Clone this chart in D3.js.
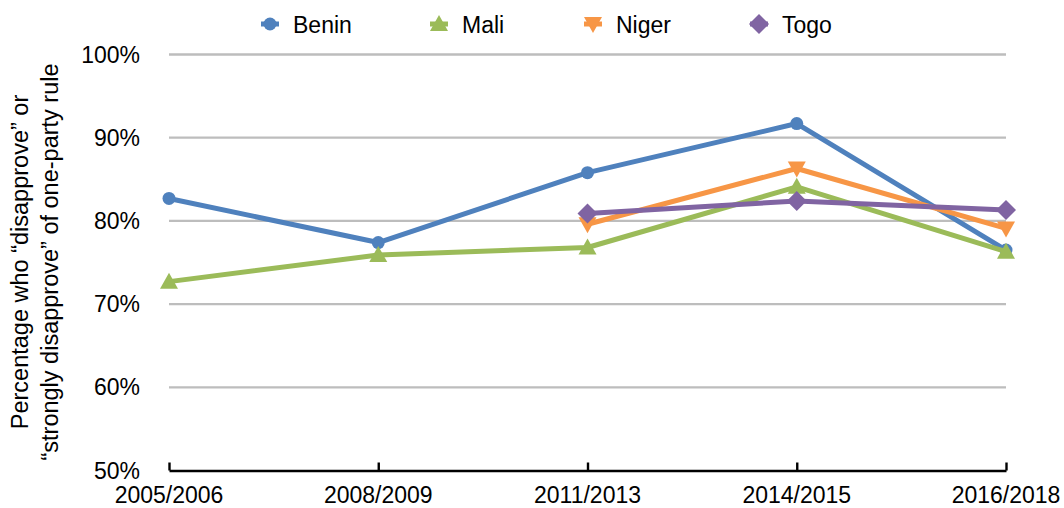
<!DOCTYPE html>
<html>
<head>
<meta charset="utf-8">
<script src="https://cdn.jsdelivr.net/npm/d3@7"></script>
<style>
  body { margin: 0; background: #fff; }
  text { font-family: "Liberation Sans", Arial, sans-serif; fill: #000; }
</style>
</head>
<body>
<div id="chart"></div>
<script>
var surveys = ["2005/2006", "2008/2009", "2011/2013", "2014/2015", "2016/2018"]
var benin = [82.7, 77.4, 85.8, 91.7, 76.5]
var mali = [72.7, 75.9, 76.8, 84.1, 76.3]
var niger = [null, null, 79.6, 86.3, 79.1]
var togo = [null, null, 80.9, 82.4, 81.3]
var yTicks = [50, 60, 70, 80, 90, 100]

var series = [
  {name: "Benin", values: benin, color: "#4f81bd", symbol: "circle"},
  {name: "Mali", values: mali, color: "#9bbb59", symbol: "up"},
  {name: "Niger", values: niger, color: "#f79646", symbol: "down"},
  {name: "Togo", values: togo, color: "#8064a2", symbol: "diamond"}
]

var width = 1064,
    height = 508

var svg = d3.select("#chart")
  .append("svg")
    .attr("width", width)
    .attr("height", height)

var x = d3.scalePoint()
  .domain(surveys)
  .range([169, 1006])

var y = d3.scaleLinear()
  .domain([50, 100])
  .range([470.5, 54.5])

// gridlines
svg.selectAll("gridLines")
  .data(yTicks.filter(function(t){ return t > 50 }))
  .enter()
  .append("line")
    .attr("x1", 169)
    .attr("x2", 1006)
    .attr("y1", function(d){ return y(d) })
    .attr("y2", function(d){ return y(d) })
    .attr("stroke", "#bdbdbd")
    .attr("stroke-width", 2.3)

// y labels
svg.selectAll("yLabels")
  .data(yTicks)
  .enter()
  .append("text")
    .attr("x", 140)
    .attr("y", function(d){ return y(d) + 8 })
    .style("text-anchor", "end")
    .style("font-size", "23px")
    .text(function(d){ return d + "%" })

// x axis, ticks point up
var xAxis = svg.append("g")
  .attr("transform", "translate(0," + y(50) + ")")
  .call(d3.axisTop(x).tickSize(8).tickSizeOuter(0).tickFormat(""))
xAxis.select(".domain").attr("stroke", "#000").attr("stroke-width", 2.6)
xAxis.selectAll(".tick line").attr("stroke", "#000").attr("stroke-width", 2.4)

svg.selectAll("xLabels")
  .data(surveys)
  .enter()
  .append("text")
    .attr("x", function(d){ return x(d) })
    .attr("y", 503)
    .style("text-anchor", "middle")
    .style("font-size", "23px")
    .text(function(d){ return d })

// y axis title (two lines)
var title = svg.append("text")
  .attr("transform", "translate(0,262) rotate(-90)")
  .style("text-anchor", "middle")
  .style("font-size", "23.5px")
title.append("tspan").attr("x", 0).attr("y", 28).text("Percentage who \u201cdisapprove\u201d or")
title.append("tspan").attr("x", 0).attr("y", 58).text("\u201cstrongly disapprove\u201d of one-party rule")

function drawSymbol(g, type, cx, cy, color) {
  if (type == "circle") {
    g.append("circle").attr("cx", cx).attr("cy", cy).attr("r", 6.5).attr("fill", color)
  } else if (type == "up") {
    g.append("path").attr("d", "M" + cx + "," + (cy - 9) + "L" + (cx + 9) + "," + (cy + 7) + "L" + (cx - 9) + "," + (cy + 7) + "Z").attr("fill", color)
  } else if (type == "down") {
    g.append("path").attr("d", "M" + (cx - 9) + "," + (cy - 7) + "L" + (cx + 9) + "," + (cy - 7) + "L" + cx + "," + (cy + 9) + "Z").attr("fill", color)
  } else {
    g.append("path").attr("d", "M" + cx + "," + (cy - 10) + "L" + (cx + 10) + "," + cy + "L" + cx + "," + (cy + 10) + "L" + (cx - 10) + "," + cy + "Z").attr("fill", color)
  }
}

var line = d3.line()
  .defined(function(d){ return d.v != null })
  .x(function(d){ return x(d.k) })
  .y(function(d){ return y(d.v) })

series.forEach(function(s) {
  var pts = surveys.map(function(k, i){ return {k: k, v: s.values[i]} })
  svg.append("path")
    .datum(pts)
    .attr("d", line)
    .attr("fill", "none")
    .attr("stroke", s.color)
    .attr("stroke-width", 5)
    .attr("stroke-linejoin", "round")
  var g = svg.append("g")
  pts.forEach(function(p) {
    if (p.v != null) drawSymbol(g, s.symbol, x(p.k), y(p.v), s.color)
  })
})

// legend: short line stub + marker + name
var legendX = [270, 439, 593, 759]
series.forEach(function(s, i) {
  var g = svg.append("g")
  g.append("line")
    .attr("x1", legendX[i] - 9).attr("x2", legendX[i] + 9)
    .attr("y1", 24).attr("y2", 24)
    .attr("stroke", s.color).attr("stroke-width", 5)
  drawSymbol(g, s.symbol, legendX[i], 24, s.color)
  g.append("text")
    .attr("x", legendX[i] + 23)
    .attr("y", 33)
    .style("font-size", "23px")
    .text(s.name)
})
</script>
</body>
</html>
